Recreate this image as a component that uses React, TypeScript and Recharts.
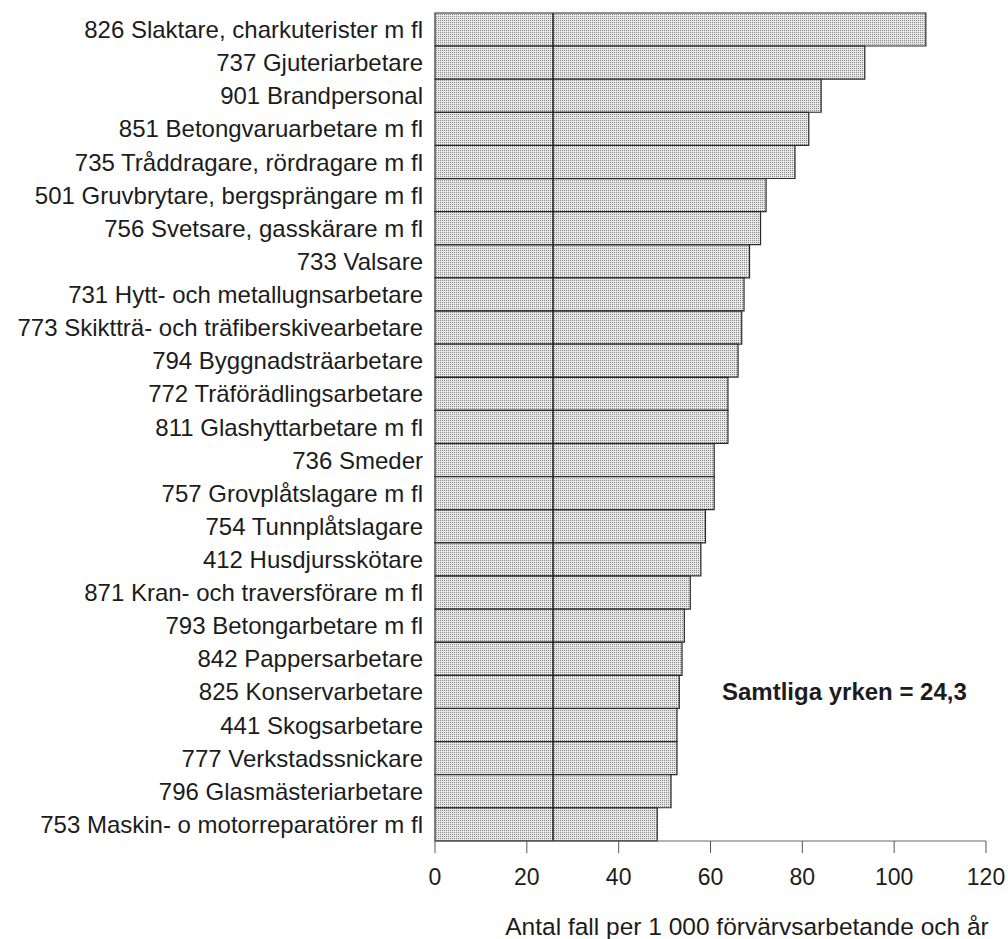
import { BarChart, Bar, XAxis, YAxis, ReferenceLine } from "recharts";

const occupations = [
  "826 Slaktare, charkuterister m fl",
  "737 Gjuteriarbetare",
  "901 Brandpersonal",
  "851 Betongvaruarbetare m fl",
  "735 Tråddragare, rördragare m fl",
  "501 Gruvbrytare, bergsprängare m fl",
  "756 Svetsare, gasskärare m fl",
  "733 Valsare",
  "731 Hytt- och metallugnsarbetare",
  "773 Skiktträ- och träfiberskivearbetare",
  "794 Byggnadsträarbetare",
  "772 Träförädlingsarbetare",
  "811 Glashyttarbetare m fl",
  "736 Smeder",
  "757 Grovplåtslagare m fl",
  "754 Tunnplåtslagare",
  "412 Husdjursskötare",
  "871 Kran- och traversförare m fl",
  "793 Betongarbetare m fl",
  "842 Pappersarbetare",
  "825 Konservarbetare",
  "441 Skogsarbetare",
  "777 Verkstadssnickare",
  "796 Glasmästeriarbetare",
  "753 Maskin- o motorreparatörer m fl",
];

const rates = [
  106.9, 93.6, 84.1, 81.4, 78.4, 72.1, 70.9, 68.5, 67.3, 66.8, 66.0, 63.8, 63.8,
  60.8, 60.8, 58.9, 57.9, 55.6, 54.3, 53.8, 53.2, 52.7, 52.7, 51.4, 48.4,
];

const xTicks = [0, 20, 40, 60, 80, 100, 120];
const allOccupations = 25.7;

const data = occupations.map((name, i) => ({ name, rate: rates[i] }));

const font = "'Liberation Sans', Arial, Helvetica, sans-serif";
const ink = "#1c1c1c";

export default function App() {
  return (
    <div style={{ position: "absolute", left: 0, top: 0, width: 1008, height: 939, overflow: "hidden", fontFamily: font, background: "#fff" }}>
      <BarChart
        width={1008}
        height={939}
        data={data}
        layout="vertical"
        barCategoryGap={0}
        margin={{ top: 13, right: 22, bottom: 0, left: 0 }}
      >
        <defs>
          <pattern id="dots" width="2" height="2" patternUnits="userSpaceOnUse">
            <rect width="2" height="2" fill="#e6e6e6" />
            <rect width="1" height="1" fill="#8c8c8c" />
          </pattern>
        </defs>
        <XAxis
          type="number"
          domain={[0, 120]}
          ticks={xTicks}
          height={98}
          tickSize={12}
          tickMargin={16}
          axisLine={{ stroke: "#666" }}
          tickLine={{ stroke: "#555" }}
          tick={{ fontSize: 23, fill: ink, fontFamily: font }}
        />
        <YAxis
          type="category"
          dataKey="name"
          width={435}
          axisLine={false}
          tickLine={false}
          tickMargin={6}
          interval={0}
          tick={{ fontSize: 24, fill: ink, fontFamily: font }}
        />
        <Bar dataKey="rate" fill="url(#dots)" stroke="#2a2a2a" strokeWidth={1.2} isAnimationActive={false} />
        <ReferenceLine x={allOccupations} stroke="#1c1c1c" strokeWidth={1.5} />
      </BarChart>
      <div style={{ position: "absolute", left: 722, top: 678, fontSize: 24, fontWeight: "bold", color: ink, whiteSpace: "nowrap" }}>
        Samtliga yrken = 24,3
      </div>
      <div style={{ position: "absolute", left: 477, width: 540, top: 913, fontSize: 24.5, color: ink, textAlign: "center", whiteSpace: "nowrap" }}>
        Antal fall per 1 000 förvärvsarbetande och år
      </div>
    </div>
  );
}
